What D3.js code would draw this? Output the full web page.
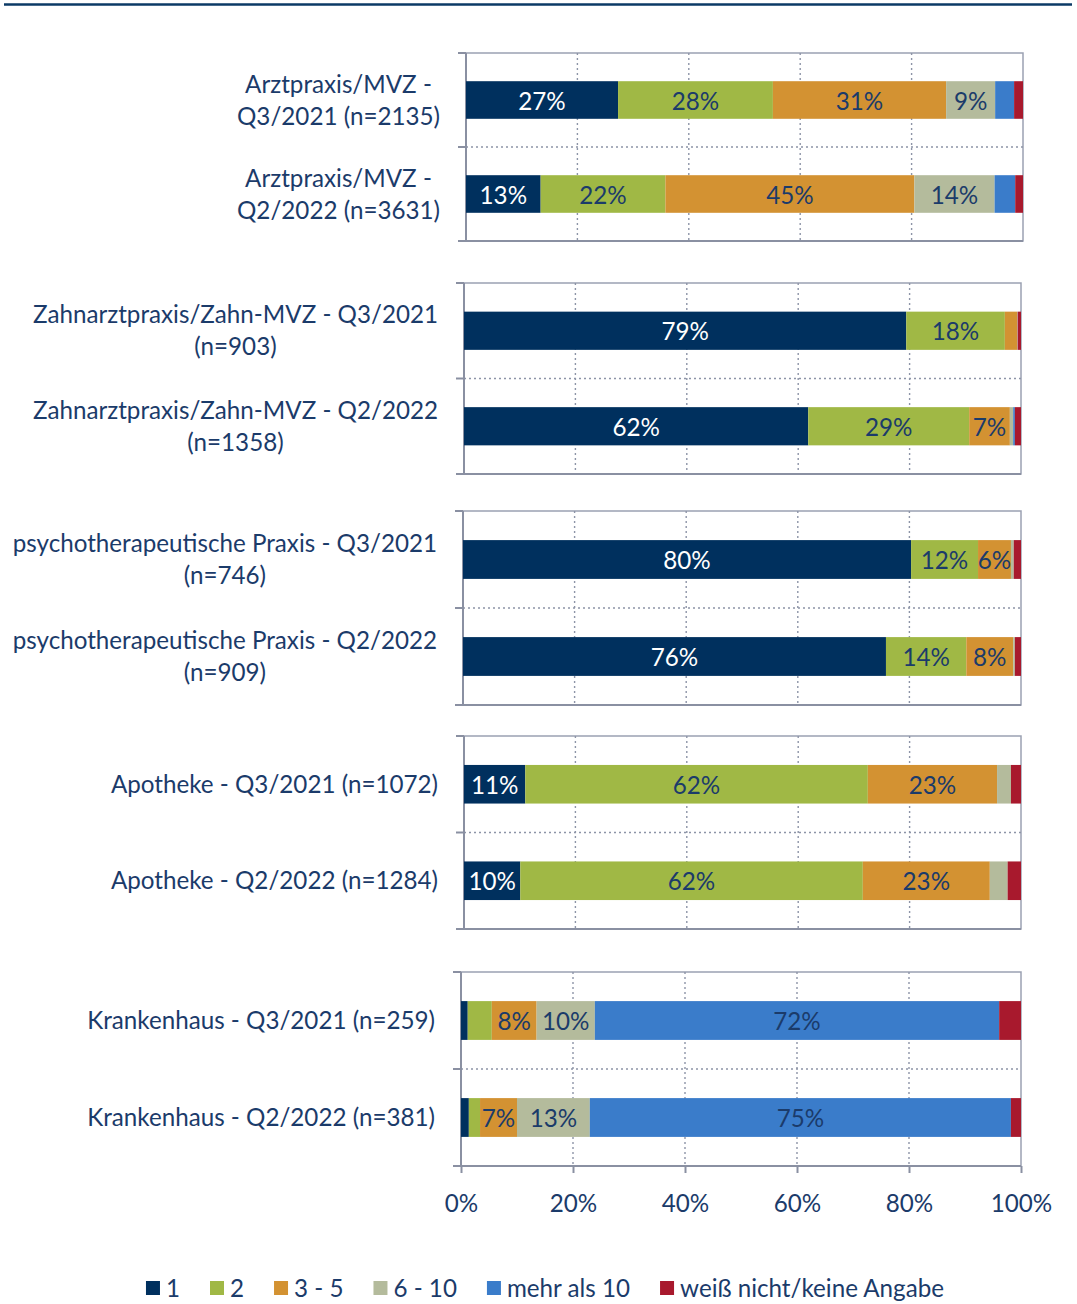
<!DOCTYPE html>
<html><head><meta charset="utf-8">
<script src="https://cdn.jsdelivr.net/npm/d3@7"></script>
<style>body{margin:0;background:#fff}svg{display:block}</style>
</head><body><svg id="c" width="1077" height="1304"></svg>
<script>
// ---- data ----
const categories = [
  ["Arztpraxis/MVZ -","Q3/2021 (n=2135)"],
  ["Arztpraxis/MVZ -","Q2/2022 (n=3631)"],
  ["Zahnarztpraxis/Zahn-MVZ - Q3/2021","(n=903)"],
  ["Zahnarztpraxis/Zahn-MVZ - Q2/2022","(n=1358)"],
  ["psychotherapeutische Praxis - Q3/2021","(n=746)"],
  ["psychotherapeutische Praxis - Q2/2022","(n=909)"],
  ["Apotheke - Q3/2021 (n=1072)"],
  ["Apotheke - Q2/2022 (n=1284)"],
  ["Krankenhaus - Q3/2021 (n=259)"],
  ["Krankenhaus - Q2/2022 (n=381)"]
];
const seriesNames = ["1","2","3 - 5","6 - 10","mehr als 10","weiß nicht/keine Angabe"];
const s1     = [27.3, 13.4, 79.4, 61.8, 80.3, 75.8, 11.0, 10.1,  1.2,  1.4];
const s2     = [27.8, 22.4, 17.7, 28.9, 12.0, 14.4, 61.5, 61.5,  4.3,  2.0];
const s3_5   = [31.1, 44.7,  2.2,  7.3,  5.9,  8.4, 23.2, 22.8,  8.0,  6.6];
const s6_10  = [ 8.8, 14.4,  0.1,  0.6,  0.5,  0.3,  2.5,  3.2, 10.4, 13.0];
const sMehr  = [ 3.4,  3.7,  0.0,  0.3,  0.0,  0.0,  0.0,  0.0, 72.2, 75.2];
const sWeiss = [ 1.6,  1.4,  0.6,  1.1,  1.3,  1.1,  1.8,  2.4,  3.9,  1.8];
const xTicks = [0, 20, 40, 60, 80, 100];

// ---- style / layout ----
const colors = ["#00305e","#a0b845","#d39232","#b4bb9c","#3a7cca","#a8192d"];
const textColor = "#1b3b6a";
const FONT = "Lato, 'Open Sans', sans-serif";
const FS = 24.2;
const panels = [
  {l:466, r:1023, t:53,  b:241},
  {l:464, r:1021, t:283, b:474},
  {l:463, r:1021, t:511, b:705},
  {l:464, r:1021, t:736, b:929},
  {l:461, r:1021, t:972, b:1166}
];
const gridColor = "#8d94a7";
const frameColor = "#9ba1b2";

const svg = d3.select("#c");
svg.append("line").attr("x1",4).attr("x2",1072).attr("y1",4.5).attr("y2",4.5)
  .attr("stroke","#0b3a66").attr("stroke-width",2.5);

const allSeries = [s1,s2,s3_5,s6_10,sMehr,sWeiss];

panels.forEach((p, pi) => {
  const g = svg.append("g");
  const x = d3.scaleLinear().domain([0,100]).range([p.l, p.r]);
  const idx = [pi*2, pi*2+1];
  const y = d3.scaleBand().domain(idx).range([p.t, p.b]).paddingInner(0.6).paddingOuter(0.3);

  g.append("rect").attr("x",p.l).attr("y",p.t).attr("width",p.r-p.l).attr("height",p.b-p.t)
    .attr("fill","none").attr("stroke",frameColor).attr("stroke-width",1.5);
  g.selectAll("line.grid").data(xTicks.slice(1,-1)).join("line")
    .attr("x1",d=>x(d)).attr("x2",d=>x(d)).attr("y1",p.t).attr("y2",p.b)
    .attr("stroke",gridColor).attr("stroke-width",1.4).attr("stroke-dasharray","2,3");
  const sepY = (p.t+p.b)/2;
  g.append("line").attr("x1",p.l).attr("x2",p.r).attr("y1",sepY).attr("y2",sepY)
    .attr("stroke",gridColor).attr("stroke-width",1.4).attr("stroke-dasharray","2,3");
  g.append("line").attr("x1",p.l).attr("x2",p.l).attr("y1",p.t).attr("y2",p.b)
    .attr("stroke","#8a90a2").attr("stroke-width",2);
  [p.t, sepY, p.b].forEach(yy => g.append("line").attr("x1",p.l-8).attr("x2",p.l).attr("y1",yy).attr("y2",yy)
    .attr("stroke","#8a90a2").attr("stroke-width",2));
  g.append("line").attr("x1",p.l-8).attr("x2",p.r).attr("y1",p.b).attr("y2",p.b)
    .attr("stroke","#8a90a2").attr("stroke-width",2);

  idx.forEach(i => {
    let cum = 0;
    allSeries.forEach((s, si) => {
      const v = s[i];
      const x0 = cum; cum += v;
      if (v <= 0) return;
      g.append("rect").attr("x",x(x0)).attr("y",y(i)).attr("width",x(cum)-x(x0)).attr("height",y.bandwidth())
        .attr("fill",colors[si]);
      if (v >= 5.5) {
        g.append("text").attr("x",(x(x0)+x(cum))/2).attr("y",y(i)+y.bandwidth()/2)
          .attr("text-anchor","middle").attr("dy","0.4em")
          .attr("font-family",FONT).attr("font-size",FS)
          .attr("fill", si===0 ? "#ffffff" : textColor)
          .text(Math.round(v)+"%");
      }
    });
    const lines = categories[i];
    const lh = 32;
    const t = svg.append("text").attr("font-family",FONT).attr("font-size",FS).attr("fill",textColor)
      .attr("text-anchor","middle");
    const cy = y(i)+y.bandwidth()/2;
    const spans = lines.map((ln, li) => t.append("tspan").attr("y", cy + (li-(lines.length-1)/2)*lh).attr("dy","0.36em").text(ln));
    const maxW = d3.max(spans, s => s.node().getComputedTextLength());
    const right = p.l - 26;
    spans.forEach(s => s.attr("x", right - maxW/2));
  });

  if (pi === panels.length-1) {
    const ax = g.append("g").attr("transform",`translate(0,${p.b})`)
      .call(d3.axisBottom(x).tickValues(xTicks).tickFormat(d=>d+"%").tickSize(7).tickPadding(22));
    ax.select(".domain").remove();
    ax.selectAll(".tick line").attr("stroke","#8a90a2").attr("stroke-width",2);
    ax.selectAll(".tick text").attr("font-family",FONT).attr("font-size",FS).attr("fill",textColor);
  }
});

// legend
const lg = svg.append("g");
const items = seriesNames.map((n,i)=>({n, c:colors[i]}));
const sq = 14, gapT = 6, gapItem = 30;
const tmp = items.map(it => {
  const t = lg.append("text").attr("font-family",FONT).attr("font-size",FS).attr("fill",textColor).text(it.n);
  return {t, w: t.node().getComputedTextLength(), c: it.c};
});
const total = d3.sum(tmp, d=>sq+gapT+d.w) + gapItem*(tmp.length-1);
let lx = 545 - total/2;
const ly = 1288;
tmp.forEach(d => {
  lg.append("rect").attr("x",lx).attr("y",ly-sq/2).attr("width",sq).attr("height",sq).attr("fill",d.c);
  d.t.attr("x",lx+sq+gapT).attr("y",ly).attr("dy","0.36em");
  lx += sq+gapT+d.w+gapItem;
});
</script></body></html>
